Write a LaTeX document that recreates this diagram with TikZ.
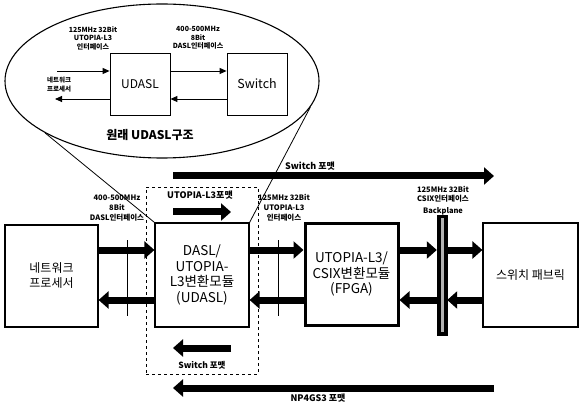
\documentclass[tikz,border=0pt]{standalone}
\usepackage{fontspec}
\setmainfont{Noto Sans CJK KR}
\usetikzlibrary{shapes.geometric,arrows.meta}
\newcommand\fsz[2]{\fontsize{#1}{#2}\selectfont}
\begin{document}
\begin{tikzpicture}[x=1pt,y=-1pt,
  box/.style={draw,line width=1.2pt,inner sep=0pt,align=center,fill=white},
  fat/.style={line width=7pt,-{Triangle[length=10pt,width=17pt]}},
  thinarr/.style={line width=0.9pt,-{Triangle[length=7pt,width=6pt]}},
  lbl/.style={inner sep=0pt,align=center},
  thinline/.style={line width=0.8pt}
]
\useasboundingbox[fill=white] (0,0) rectangle (580,403);

% magnified original structure
\node[ellipse,draw,line width=1.1pt,minimum width=314pt,minimum height=154pt,inner sep=0pt] (ell) at (162,81) {};
\node[box,line width=0.8pt,minimum width=60pt,minimum height=62pt,font=\fsz{12}{14}] (eu) at (140,84) {UDASL};
\node[box,line width=0.8pt,minimum width=60pt,minimum height=62pt,font=\fsz{12.5}{14}] (es) at (257,84) {Switch};
\coordinate (ein) at (57,71);
\coordinate (eout) at (55,99);
\draw[thinarr] (ein) -- (eu.west |- ein);
\draw[thinarr] (eu.west |- eout) -- (eout);
\draw[thinarr] (eu.east |- ein) -- (es.west |- ein);
\draw[thinarr] (es.west |- eout) -- (eu.east |- eout);
\node[lbl,font=\bfseries\fsz{7}{8.5}] (el1) at (93,38) {125MHz 32Bit\\UTOPIA-L3\\인터페이스};
\node[lbl,font=\bfseries\fsz{7}{8.5}] (el2) at (198,38) {400-500MHz\\8Bit\\DASL인터페이스};
\node[lbl,font=\bfseries\fsz{6.5}{9},anchor=west,align=left] (enp) at (47,85) {네트워크\\프로세서};
\node[lbl,font=\bfseries\fsz{12}{14}] (etitle) at (150,135) {원래 UDASL구조};

% format box
\node[draw,dashed,line width=0.7pt,minimum width=112pt,minimum height=187pt,inner sep=0pt] (fmt) at (202,280.5) {};

% thin vertical lines
\coordinate (v1a) at (127,240); \coordinate (v1b) at (127,316);
\coordinate (v2a) at (278,240); \coordinate (v2b) at (278,316);
\draw[thinline] (v1a) -- (v1b);
\draw[thinline] (v2a) -- (v2b);

% main blocks
\node[box,minimum width=93pt,minimum height=102pt,font=\fsz{12}{15}] (np) at (51.5,276) {네트워크\\프로세서};
\node[box,minimum width=94pt,minimum height=104pt,font=\fsz{13.5}{15.5}] (ud) at (202,275) {DASL/\\UTOPIA-\\L3변환모듈\\(UDASL)};
\node[box,line width=3pt,minimum width=93pt,minimum height=102pt,font=\fsz{13.5}{15.5}] (fp) at (351.5,274) {UTOPIA-L3/\\CSIX변환모듈\\(FPGA)};
\node[box,minimum width=95pt,minimum height=104pt,font=\fsz{12}{14}] (sf) at (530.5,275) {스위치 패브릭};
\node[draw,fill=black,minimum width=10pt,minimum height=120pt,inner sep=0pt] (bp) at (442,275) {};
\fill[gray!60] ([xshift=-1.5pt,yshift=-3pt]bp.north) rectangle ([xshift=1.5pt,yshift=3pt]bp.south);

% magnifier lines
\draw[thinline] (ell.204) -- (ud.north west);
\draw[thinline] (ell.-10) -- (ud.north east);

% data path arrows
\coordinate (yu) at (0,250);
\coordinate (yl) at (0,300);
\draw[fat] (np.east |- yu) -- (ud.west |- yu);
\draw[fat] (ud.west |- yl) -- (np.east |- yl);
\draw[fat] (ud.east |- yu) -- (fp.west |- yu);
\draw[fat] (fp.west |- yl) -- (ud.east |- yl);
\draw[fat] (fp.east |- yu) -- (bp.west |- yu);
\draw[fat] (bp.east |- yu) -- (sf.west |- yu);
\draw[fat] (sf.west |- yl) -- (bp.east |- yl);
\draw[fat] (bp.west |- yl) -- (fp.east |- yl);

% interface labels
\node[lbl,font=\bfseries\fsz{7.5}{10}] (il1) at (117,208) {400-500MHz\\8Bit\\DASL인터페이스};
\node[lbl,font=\bfseries\fsz{7.5}{10}] (il2) at (284,208) {125MHz 32Bit\\UTOPIA-L3\\인터페이스};
\node[lbl,font=\bfseries\fsz{7.5}{9}] (il3) at (443,201) {125MHz 32Bit\\CSIX인터페이스\\[3pt]Backplane};

% format arrows
\node[lbl,font=\bfseries\fsz{9}{10}] (tf1) at (200,195) {UTOPIA-L3포맷};
\coordinate (a1s) at (173,212); \coordinate (a1e) at (231,212);
\draw[fat] (a1s) -- (a1e);
\node[lbl,font=\bfseries\fsz{8.5}{10}] (tf2) at (202,365) {Switch 포맷};
\coordinate (a2s) at (231,348); \coordinate (a2e) at (173,348);
\draw[fat] (a2s) -- (a2e);
\node[lbl,font=\bfseries\fsz{9}{10}] (tf3) at (310,166) {Switch 포맷};
\coordinate (a3s) at (173,176); \coordinate (a3e) at (494,176);
\draw[fat] (a3s) -- (a3e);
\node[lbl,font=\bfseries\fsz{9}{10}] (tf4) at (318,398) {NP4GS3 포맷};
\coordinate (a4s) at (494,388); \coordinate (a4e) at (173,388);
\draw[fat] (a4s) -- (a4e);
\end{tikzpicture}
\end{document}
